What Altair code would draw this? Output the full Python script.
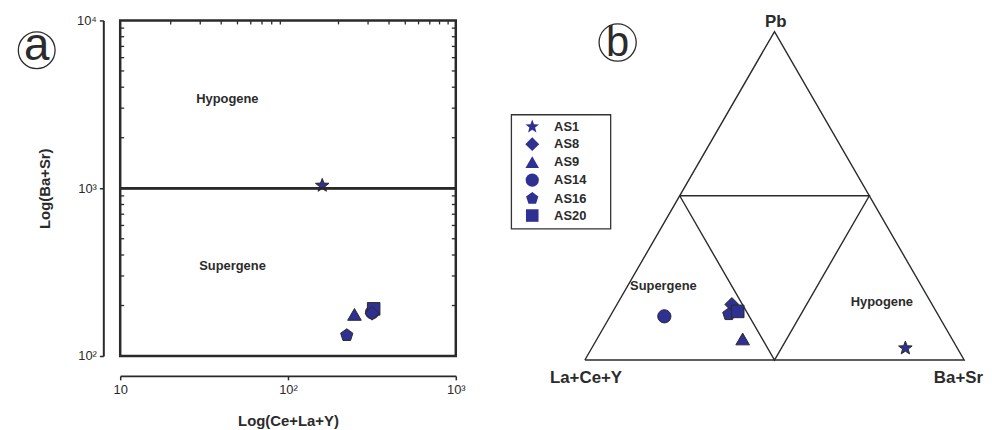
import math
import altair as alt
import pandas as pd

# ---------------- data ----------------
samples = ["AS1", "AS8", "AS9", "AS14", "AS16", "AS20"]
# panel (a): Ce+La+Y vs Ba+Sr
ce_la_y = [160, 317, 249, 317, 224, 324]
ba_sr = [1038, 180, 177, 182, 133, 191]
draw_rank_a = [6, 3, 4, 1, 5, 2]
# panel (b): ternary composition (%)
pb_pct = [3.6, 16.9, 6.4, 13.3, 13.9, 14.8]
ree_pct = [13.7, 52.8, 55.2, 72.4, 55.1, 52.3]
basr_pct = [82.7, 30.3, 38.4, 14.3, 31.0, 32.9]

# ternary frame (outer triangle + inner triangle)
frame_seg = ["outer"] * 4 + ["inner"] * 4
frame_ord = [0, 1, 2, 3, 0, 1, 2, 3]
frame_pb = [0, 0, 100, 0, 50, 50, 0, 50]
frame_ree = [100, 0, 0, 100, 50, 0, 50, 50]
frame_basr = [0, 100, 0, 0, 0, 50, 50, 0]

# tick values
major_x = [10, 100, 1000]
major_y = [100, 1000, 10000]
minor_x = [20, 30, 40, 50, 60, 70, 80, 90, 200, 300, 400, 500, 600, 700, 800, 900]
minor_y = [200, 300, 400, 500, 600, 700, 800, 900, 2000, 3000, 4000, 5000, 6000, 7000, 8000, 9000]

# annotations
a_labels = ["Hypogene", "Supergene"]
a_lab_x = [43.5, 46.7]
a_lab_y = [3400, 345]
b_labels = ["Pb", "La+Ce+Y", "Ba+Sr"]
b_lab_x = [0.503, 0.003, 0.985]
b_lab_y = [0.89, -0.047, -0.047]
b_reg = ["Supergene", "Hypogene"]
b_reg_x = [0.207, 0.783]
b_reg_y = [0.194, 0.152]
# legend frame (in ternary-plane units)
legbox_x = [-0.1937]
legbox_x2 = [0.068]
legbox_y = [0.6466]
legbox_y2 = [0.3455]

# ---------------- styling ----------------
BLUE = "#2e3192"
EDGE = "#2a2a2a"
INK = "#2b2b2b"
FONT = "Liberation Sans"
W_A = 338
H_A = 338
TICK = 4


def star_path(n=5, inner=0.42):
    pts = []
    for k in range(2 * n):
        r = 1.0 if k % 2 == 0 else inner
        a = math.radians(-90 + 180.0 / n * k)
        pts.append(f"{r * math.cos(a):.3f},{r * math.sin(a):.3f}")
    return "M" + " L".join(pts) + " Z"


def poly_path(n=5):
    pts = []
    for k in range(n):
        a = math.radians(-90 + 360.0 / n * k)
        pts.append(f"{math.cos(a):.3f},{math.sin(a):.3f}")
    return "M" + " L".join(pts) + " Z"


shape_scale = alt.Scale(domain=samples,
                        range=[star_path(), "diamond", "triangle-up", "circle", poly_path(), "square"])
size_scale = alt.Scale(domain=samples, range=[205, 160, 165, 110, 125, 100])

legend = alt.Legend(orient="none", legendX=392, legendY=95, title=None,
                    strokeColor="transparent", padding=4, rowPadding=0.1,
                    symbolFillColor=BLUE, symbolStrokeColor=EDGE, symbolStrokeWidth=1,
                    symbolOffset=11, labelOffset=14,
                    labelFont=FONT, labelFontSize=13, labelFontWeight="bold", labelColor=INK)

sup = ("datum.value == 10 ? '10' : datum.value == 100 ? '10\u00b2' : "
       "datum.value == 1000 ? '10\u00b3' : '10\u2074'")

# ---------------- panel (a) ----------------
xs = alt.Scale(type="log", domain=[10, 1000], nice=False)
ys = alt.Scale(type="log", domain=[100, 10000], nice=False)
ax_x = alt.Axis(orient="bottom", offset=20, values=major_x, labelExpr=sup, title="Log(Ce+La+Y)",
                tickSize=TICK, labelPadding=4, titlePadding=17, labelFlush=False, grid=False,
                domain=True, domainColor=EDGE, domainWidth=2, ticks=True, tickColor=EDGE,
                tickWidth=1.5, zindex=1)
ax_y = alt.Axis(orient="left", offset=17, values=major_y, labelExpr=sup, title="Log(Ba+Sr)",
                tickSize=TICK, labelPadding=3, titlePadding=24, labelFlush=False, grid=False,
                domain=True, domainColor=EDGE, domainWidth=2, ticks=True, tickColor=EDGE,
                tickWidth=1.5, zindex=1)

a_df = pd.DataFrame({"sample": samples, "x": ce_la_y, "y": ba_sr,
                     "rank": draw_rank_a}).sort_values("rank")
a_lab_df = pd.DataFrame({"t": a_labels, "x": a_lab_x, "y": a_lab_y})

pts_a = alt.Chart(a_df).mark_point(filled=True, fill=BLUE, stroke=EDGE, strokeWidth=1, fillOpacity=1).encode(
    x=alt.X("x:Q", scale=xs, axis=ax_x),
    y=alt.Y("y:Q", scale=ys, axis=ax_y),
    shape=alt.Shape("sample:N", scale=shape_scale, legend=legend),
    size=alt.Size("sample:N", scale=size_scale, legend=legend),
)

hline = alt.Chart(a_df).mark_rule(stroke=EDGE, strokeWidth=2).encode(
    y=alt.YDatum(1000, type="quantitative", scale=ys, axis=ax_y)
)

# minor ticks drawn inward on the frame (top, left, right)
tx_df = pd.DataFrame({"x": minor_x})
ty_df = pd.DataFrame({"y": minor_y})
top_ticks = alt.Chart(tx_df).mark_rule(stroke=EDGE, strokeWidth=1.3).encode(
    x=alt.X("x:Q", scale=xs, axis=ax_x), y=alt.value(0), y2=alt.value(TICK))
left_ticks = alt.Chart(ty_df).mark_rule(stroke=EDGE, strokeWidth=1.3).encode(
    y=alt.Y("y:Q", scale=ys, axis=ax_y), x=alt.value(0), x2=alt.value(TICK))
right_ticks = alt.Chart(ty_df).mark_rule(stroke=EDGE, strokeWidth=1.3).encode(
    y=alt.Y("y:Q", scale=ys, axis=ax_y), x=alt.value(W_A - TICK), x2=alt.value(W_A))

labels_a = alt.Chart(a_lab_df).mark_text(font=FONT, fontSize=13, fontWeight="bold", color=INK).encode(
    x=alt.X("x:Q", scale=xs, axis=ax_x), y=alt.Y("y:Q", scale=ys, axis=ax_y), text="t:N")

circ_a_df = pd.DataFrame({"t": ["a"], "x": [3.18], "y": [6640]})
circ_a = alt.Chart(circ_a_df).mark_point(shape="circle", size=1370, filled=False, stroke=INK,
                                         strokeWidth=1.3, opacity=1).encode(
    x=alt.X("x:Q", scale=xs, axis=ax_x), y=alt.Y("y:Q", scale=ys, axis=ax_y))
circ_a_t = alt.Chart(circ_a_df).mark_text(font=FONT, fontSize=46, color=INK, dy=-4).encode(
    x=alt.X("x:Q", scale=xs, axis=ax_x), y=alt.Y("y:Q", scale=ys, axis=ax_y), text="t:N")

panel_a = alt.layer(pts_a, hline, top_ticks, left_ticks, right_ticks, labels_a, circ_a, circ_a_t).properties(
    width=W_A, height=H_A, view=alt.ViewBackground(stroke=EDGE, strokeWidth=2.5))

# ---------------- panel (b) ----------------
S3 = math.sqrt(3) / 2
XMIN, XMAX = -0.2435, 1.0340
YMIN, YMAX = -0.1047, 0.8953
txs = alt.Scale(domain=[XMIN, XMAX], nice=False, zero=False)
tys = alt.Scale(domain=[YMIN, YMAX], nice=False, zero=False)

frame_df = pd.DataFrame({"seg": frame_seg, "ord": frame_ord, "pb": frame_pb,
                         "ree": frame_ree, "basr": frame_basr})
b_df = pd.DataFrame({"sample": samples, "pb": pb_pct, "ree": ree_pct, "basr": basr_pct})

tern = "datum.basr / 100 + datum.pb / 200"
ternY = f"datum.pb / 100 * {S3}"

frame = alt.Chart(frame_df).transform_calculate(tx=tern, ty=ternY).mark_line(
    stroke=EDGE, strokeWidth=1.4).encode(
    x=alt.X("tx:Q", scale=txs, axis=None),
    y=alt.Y("ty:Q", scale=tys, axis=None),
    detail="seg:N", order="ord:Q")

pts_b = alt.Chart(b_df).transform_calculate(tx=tern, ty=ternY).mark_point(
    filled=True, fill=BLUE, stroke=EDGE, strokeWidth=1, fillOpacity=1).encode(
    x=alt.X("tx:Q", scale=txs, axis=None),
    y=alt.Y("ty:Q", scale=tys, axis=None),
    shape=alt.Shape("sample:N", scale=shape_scale, legend=legend),
    size=alt.Size("sample:N", scale=size_scale, legend=legend),
)

legbox_df = pd.DataFrame({"x": legbox_x, "x2": legbox_x2, "y": legbox_y, "y2": legbox_y2})
legbox = alt.Chart(legbox_df).mark_rect(fillOpacity=0, stroke="#333", strokeWidth=1.3).encode(
    x=alt.X("x:Q", scale=txs, axis=None), x2="x2:Q",
    y=alt.Y("y:Q", scale=tys, axis=None), y2="y2:Q")

corner_df = pd.DataFrame({"t": b_labels, "x": b_lab_x, "y": b_lab_y})
corner = alt.Chart(corner_df).mark_text(font=FONT, fontSize=17, fontWeight="bold", color=INK).encode(
    x=alt.X("x:Q", scale=txs, axis=None), y=alt.Y("y:Q", scale=tys, axis=None), text="t:N")

reg_df = pd.DataFrame({"t": b_reg, "x": b_reg_x, "y": b_reg_y})
reg = alt.Chart(reg_df).mark_text(font=FONT, fontSize=13, fontWeight="bold", color=INK).encode(
    x=alt.X("x:Q", scale=txs, axis=None), y=alt.Y("y:Q", scale=tys, axis=None), text="t:N")

circ_b_df = pd.DataFrame({"t": ["b"], "x": [0.0864], "y": [0.837]})
circ_b = alt.Chart(circ_b_df).mark_point(shape="circle", size=1400, filled=False, stroke=INK,
                                         strokeWidth=1.3, opacity=1).encode(
    x=alt.X("x:Q", scale=txs, axis=None), y=alt.Y("y:Q", scale=tys, axis=None))
circ_b_t = alt.Chart(circ_b_df).mark_text(font=FONT, fontSize=42, color=INK, dy=1).encode(
    x=alt.X("x:Q", scale=txs, axis=None), y=alt.Y("y:Q", scale=tys, axis=None), text="t:N")

panel_b = alt.layer(frame, legbox, pts_b, corner, reg, circ_b, circ_b_t).properties(
    width=488, height=382, view=alt.ViewBackground(stroke="transparent"))

chart = alt.hconcat(panel_a, panel_b, spacing=25).properties(
    padding={"left": 6, "top": 3, "right": 0, "bottom": 0}
).configure_axis(
    grid=False, domainColor=EDGE, domainWidth=2, tickColor=EDGE, tickWidth=1.5,
    labelFont=FONT, labelFontSize=13, labelColor=INK,
    titleFont=FONT, titleFontSize=15, titleFontWeight="bold", titleColor=INK,
).configure_view(stroke=None)

chart.save("out.html", embed_options={"renderer": "svg", "actions": False})
